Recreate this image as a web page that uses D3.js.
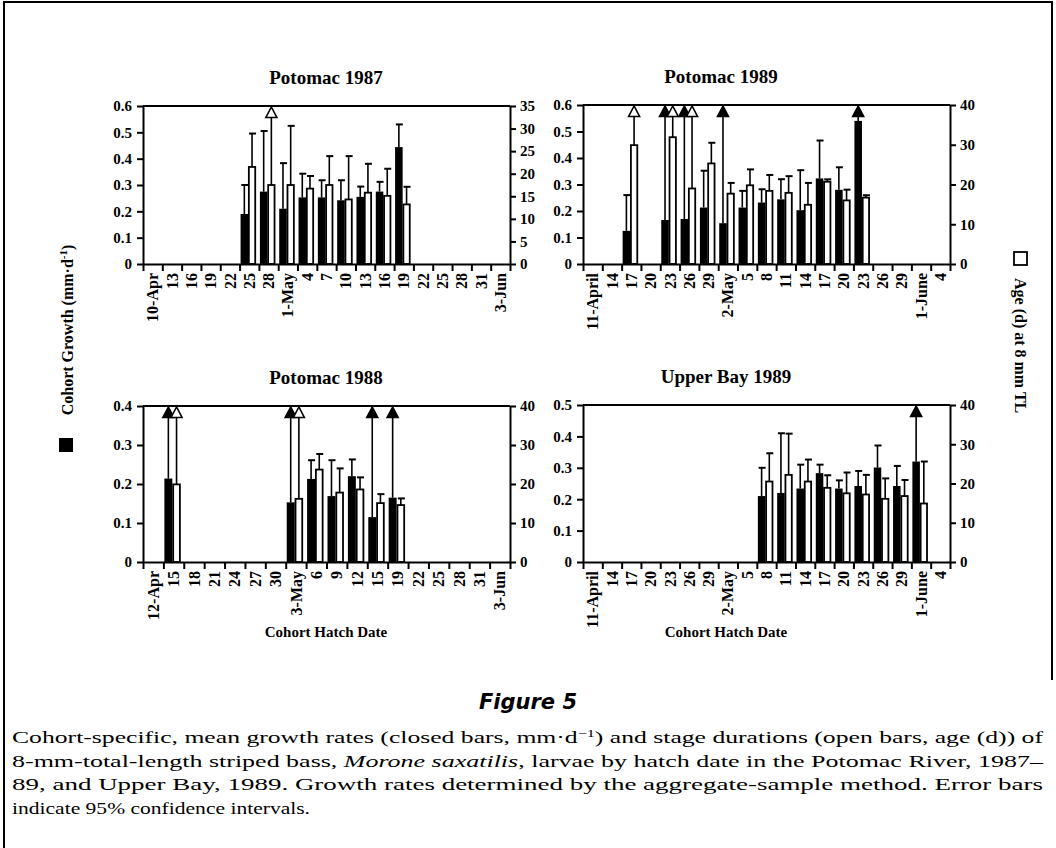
<!DOCTYPE html>
<html><head><meta charset="utf-8">
<script src="https://cdn.jsdelivr.net/npm/d3@7"></script>
<style>
body{margin:0;background:#fff}
svg text{font-family:"Liberation Serif","Times New Roman",serif;font-weight:bold;fill:#000}
svg text.cap{font-family:"Liberation Serif",serif;font-weight:normal}
</style></head><body>
<svg id="fig" width="1056" height="848"></svg>
<script>
// hatch date slot labels (3 day bins)
const labels87 = ["10-Apr","13","16","19","22","25","28","1-May","4","7","10","13","16","19","22","25","28","31","3-Jun"]
const labels88 = ["12-Apr","15","18","21","24","27","30","3-May","6","9","12","15","19","22","25","28","31","3-Jun"]
const labels89 = ["11-April","14","17","20","23","26","29","2-May","5","8","11","14","17","20","23","26","29","1-June","4"]

// Potomac 1987  (null upper CI = off scale, drawn as arrow)
const p87Slot = [5,6,7,8,9,10,11,12,13]
const p87Growth = [0.19,0.275,0.21,0.253,0.253,0.242,0.255,0.275,0.444]
const p87GrowthHi = [0.30,0.505,0.383,0.343,0.318,0.318,0.294,0.312,0.53]
const p87Age = [21.5,17.5,17.5,16.7,17.5,14.3,15.8,15.1,13.2]
const p87AgeHi = [28.9,null,30.6,19.5,23.9,23.9,22.2,21.1,17.1]

// Potomac 1989
const p89Slot = [2,4,5,6,7,8,9,10,11,12,13,14]
const p89Growth = [0.125,0.166,0.17,0.213,0.154,0.213,0.232,0.244,0.203,0.323,0.28,0.54]
const p89GrowthHi = [0.26,null,null,0.352,null,0.276,0.282,0.32,0.354,0.466,0.365,null]
const p89Age = [29.9,31.9,19,25.3,17.7,19.8,18.4,17.9,14.9,20.7,16,16.7]
const p89AgeHi = [null,null,null,30.5,20.4,23.8,22.4,22.1,20.4,21.3,18.7,17.3]

// Potomac 1988
const p88Slot = [1,7,8,9,10,11,12]
const p88Growth = [0.214,0.153,0.213,0.169,0.22,0.115,0.165]
const p88GrowthHi = [null,null,0.261,0.261,0.263,null,null]
const p88Age = [19.9,16.2,23.7,17.8,18.6,15.1,14.6]
const p88AgeHi = [null,null,27.7,24,21.7,17.4,16.3]

// Upper Bay 1989
const ub89Slot = [9,10,11,12,13,14,15,16,17]
const ub89Growth = [0.21,0.22,0.234,0.283,0.234,0.242,0.301,0.242,0.32]
const ub89GrowthHi = [0.30,0.41,0.31,0.31,0.26,0.29,0.371,0.306,null]
const ub89Age = [20.5,22.2,20.5,18.9,17.5,17.2,16.1,16.8,14.9]
const ub89AgeHi = [27.7,32.7,26.1,22.1,22.8,22.2,21.3,20.9,25.6]

const svg = d3.select("#fig")

function panel(o){
    const n = o.labels.length
    const xl = d3.scaleLinear().domain([0,n]).range([o.x0,o.x1])
    const xb = d3.scaleBand().domain(d3.range(n)).range([o.x0,o.x1])
    const yL = d3.scaleLinear().domain([0,o.gMax]).range([o.y0,o.y1])
    const yR = d3.scaleLinear().domain([0,o.aMax]).range([o.y0,o.y1])
    const g = svg.append("g")

    g.append("text").attr("x",o.tx).attr("y",o.y1-22)
        .attr("text-anchor","middle").style("font-size","19px").text(o.title)

    // top frame line
    g.append("line").attr("x1",o.x0).attr("x2",o.x1).attr("y1",o.y1).attr("y2",o.y1)
        .attr("stroke","#000").attr("stroke-width",2)

    const bw = xb.bandwidth()
    o.slot.forEach((s,i) => {
        const bx = xl(s)
        const cx = bx + 1, cw = bw*0.39
        const ox = bx + bw*0.48, ow = bw*0.33
        g.append("rect").attr("x",cx).attr("y",yL(o.growth[i])).attr("width",cw)
            .attr("height",o.y0-yL(o.growth[i])).attr("fill","#000")
        g.append("rect").attr("x",ox).attr("y",yR(o.age[i])).attr("width",ow)
            .attr("height",o.y0-yR(o.age[i])).attr("fill","#fff").attr("stroke","#000").attr("stroke-width",1.8)
        errBar(g, cx+cw/2, yL(o.growth[i]), o.growthHi[i]==null ? null : yL(o.growthHi[i]), o.y1, "#000")
        errBar(g, ox+ow/2, yR(o.age[i]), o.ageHi[i]==null ? null : yR(o.ageHi[i]), o.y1, "#fff")
    })

    const ax = g.append("g").attr("transform",`translate(0,${o.y0})`)
        .call(d3.axisBottom(xl).tickValues(d3.range(n+1)).tickFormat("").tickSize(7).tickSizeOuter(0))
    const lab = g.append("g").attr("transform",`translate(0,${o.y0})`)
        .call(d3.axisBottom(xb).tickSize(0).tickFormat(i => o.labels[i]))
    lab.select(".domain").remove()
    lab.selectAll("text").attr("transform","rotate(-90)").attr("text-anchor","end")
        .attr("x",-9).attr("y",0).attr("dy","0.35em").style("font-size","16px")

    const fmt = d => d===0 ? "0" : d3.format(".1f")(d)
    const la = g.append("g").attr("transform",`translate(${o.x0},0)`)
        .call(d3.axisLeft(yL).tickValues(d3.range(0,o.gMax+1e-9,0.1)).tickFormat(fmt).tickSize(6).tickPadding(5).tickSizeOuter(0))
    const ra = g.append("g").attr("transform",`translate(${o.x1},0)`)
        .call(d3.axisRight(yR).tickValues(d3.range(0,o.aMax+1e-9,o.aStep)).tickSize(6).tickPadding(4).tickSizeOuter(0))
    ;[ax,la,ra].forEach(a => {
        a.selectAll("path,line").attr("stroke","#000").attr("stroke-width",2)
        a.selectAll("text").style("font-size","15px").attr("font-family","Liberation Serif")
    })
    if (o.xlabel) g.append("text").attr("x",o.tx).attr("y",o.y0+75)
        .attr("text-anchor","middle").style("font-size","15px").text(o.xlabel)
}

function errBar(g, x, yb, yh, ytop, fill){
    const top = yh==null ? ytop+11 : yh
    g.append("line").attr("x1",x).attr("x2",x).attr("y1",yb).attr("y2",top)
        .attr("stroke","#000").attr("stroke-width",1.6)
    if (yh!=null){
        g.append("line").attr("x1",x-3).attr("x2",x+4).attr("y1",yh).attr("y2",yh)
            .attr("stroke","#000").attr("stroke-width",2)
    } else {
        g.append("path").attr("d",`M${x},${ytop+1}L${x-5.5},${ytop+11.5}L${x+5.5},${ytop+11.5}Z`)
            .attr("fill",fill).attr("stroke","#000").attr("stroke-width",1.6)
    }
}

panel({title:"Potomac 1987",labels:labels87,x0:143,x1:510,y0:264,y1:106,tx:326,gMax:0.6,aMax:35,aStep:5,
    slot:p87Slot,growth:p87Growth,growthHi:p87GrowthHi,age:p87Age,ageHi:p87AgeHi})
panel({title:"Potomac 1989",labels:labels89,x0:583,x1:950,y0:264,y1:105,tx:721,gMax:0.6,aMax:40,aStep:10,
    slot:p89Slot,growth:p89Growth,growthHi:p89GrowthHi,age:p89Age,ageHi:p89AgeHi})
panel({title:"Potomac 1988",labels:labels88,x0:143,x1:510,y0:562,y1:406,tx:326,gMax:0.4,aMax:40,aStep:10,
    slot:p88Slot,growth:p88Growth,growthHi:p88GrowthHi,age:p88Age,ageHi:p88AgeHi,xlabel:"Cohort Hatch Date"})
panel({title:"Upper Bay 1989",labels:labels89,x0:583,x1:950,y0:562,y1:405,tx:726,gMax:0.5,aMax:40,aStep:10,
    slot:ub89Slot,growth:ub89Growth,growthHi:ub89GrowthHi,age:ub89Age,ageHi:ub89AgeHi,xlabel:"Cohort Hatch Date"})

// axis titles with legend squares
svg.append("text").attr("transform","translate(73,330) rotate(-90)").attr("text-anchor","middle")
    .style("font-size","16px").html('Cohort Growth (mm·d<tspan dy="-6" font-size="11">-1</tspan><tspan dy="6">)</tspan>')
svg.append("rect").attr("x",59).attr("y",438).attr("width",14).attr("height",14).attr("fill","#000")
svg.append("rect").attr("x",1014).attr("y",252).attr("width",13).attr("height",13)
    .attr("fill","#fff").attr("stroke","#000").attr("stroke-width",1.8)
svg.append("text").attr("transform","translate(1015,278) rotate(90)").attr("text-anchor","start")
    .style("font-size","16px").text("Age (d) at 8 mm TL")

// frame
svg.append("path").attr("d","M4,848V2H1052V680").attr("fill","none").attr("stroke","#000").attr("stroke-width",2)

// caption
svg.append("text").attr("x",528).attr("y",709).attr("text-anchor","middle")
    .style("font-family","'DejaVu Sans',sans-serif").style("font-style","italic").style("font-size","21px").text("Figure 5")
const cap = [
  'Cohort-specific, mean growth rates (closed bars, mm·d<tspan dy="-6" font-size="11">−1</tspan><tspan dy="6">) and stage durations (open bars, age (d)) of</tspan>',
  '8-mm-total-length striped bass, <tspan font-style="italic">Morone saxatilis</tspan>, larvae by hatch date in the Potomac River, 1987–',
  '89, and Upper Bay, 1989. Growth rates determined by the aggregate-sample method. Error bars',
  'indicate 95% confidence intervals.'
]
const capLen = [1031,1031,1031,298]
cap.forEach((c,i) => {
    svg.append("text").attr("class","cap").attr("x",12).attr("y",743+i*23.5)
        .style("font-size","17.5px").html(c)
        .attr("textLength",capLen[i]).attr("lengthAdjust","spacingAndGlyphs")
})
</script>
</body></html>
